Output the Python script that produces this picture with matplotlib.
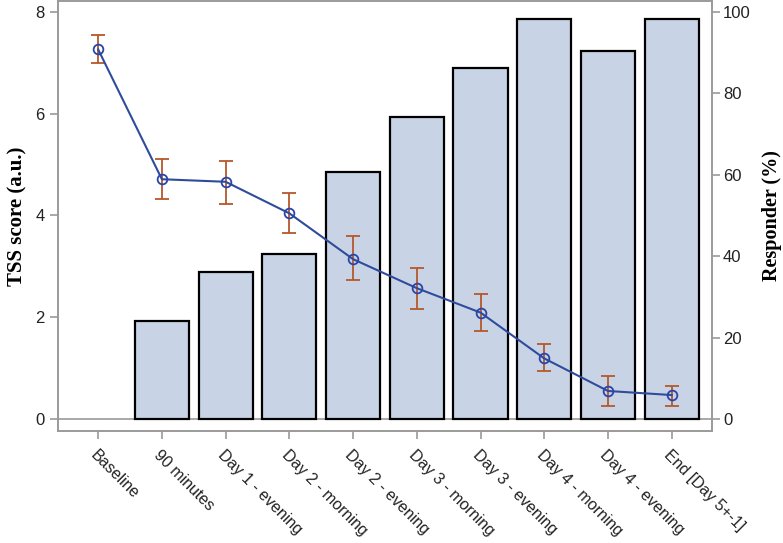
import numpy as np
import matplotlib
matplotlib.use('Agg')
import matplotlib.pyplot as plt

# time points on the x axis
timepoints = ['Baseline', '90 minutes', 'Day 1 - evening', 'Day 2 - morning',
              'Day 2 - evening', 'Day 3 - morning', 'Day 3 - evening',
              'Day 4 - morning', 'Day 4 - evening', 'End [Day 5+-1]']

# mean TSS score with lower / upper error limits
tss_mean = [7.26, 4.71, 4.66, 4.04, 3.14, 2.57, 2.09, 1.19, 0.55, 0.47]
tss_low = [6.99, 4.32, 4.22, 3.66, 2.73, 2.17, 1.73, 0.94, 0.26, 0.26]
tss_high = [7.55, 5.11, 5.07, 4.44, 3.60, 2.97, 2.45, 1.47, 0.85, 0.65]

# responder percentage (bars), no bar at baseline
responder = [np.nan, 24.0, 36.1, 40.5, 60.7, 74.2, 86.2, 98.3, 90.4, 98.3]

x = np.arange(len(timepoints))
yerr = [np.array(tss_mean) - np.array(tss_low), np.array(tss_high) - np.array(tss_mean)]

grey = '#9a9a9a'
tick_font = 'Liberation Sans'
label_font = 'Liberation Serif'

fig = plt.figure(figsize=(7.83, 5.43), dpi=100)
ax = fig.add_axes([0.0741, 0.2063, 0.835, 0.7917])
ax2 = ax.twinx()

ax2.bar(x, responder, width=0.85, color='#c8d4e6', edgecolor='black', linewidth=1.6, zorder=2)
ax2.axhline(0, color=grey, linewidth=1.2, zorder=1)

ax.set_zorder(ax2.get_zorder() + 1)
ax.patch.set_visible(False)
ax.errorbar(x, tss_mean, yerr=yerr, fmt='none', ecolor='#b4582c', elinewidth=1.3,
            capsize=5, capthick=1.3, zorder=3)
ax.plot(x, tss_mean, color='#2f4c9c', linewidth=1.5, marker='o', markersize=7,
        markerfacecolor='none', markeredgecolor='#2a44a8', markeredgewidth=1.3, zorder=4)

ylim = (-0.236, 8.21)
ax.set_ylim(ylim)
ax2.set_ylim(ylim[0] * 12.5, ylim[1] * 12.5)
ax.set_xlim(-0.63, 9.63)

ax.set_yticks([0, 2, 4, 6, 8])
ax2.set_yticks([0, 20, 40, 60, 80, 100])
ax.set_xticks(x)
ax.set_xticklabels(timepoints, rotation=-45, ha='left', va='top', rotation_mode='anchor',
                   family=tick_font, fontsize=11.5)
for lbl in ax.get_yticklabels() + ax2.get_yticklabels():
    lbl.set_family(tick_font)
    lbl.set_fontsize(12)

for a in (ax, ax2):
    for s in a.spines.values():
        s.set_color(grey)
        s.set_linewidth(1.2)
    a.tick_params(colors=grey, width=1.2, length=6, labelcolor='#222222')
ax.tick_params(axis='x', pad=6)
ax2.tick_params(axis='y', pad=2)

ax.set_ylabel('TSS score (a.u.)', family=label_font, fontweight='bold', fontsize=15, labelpad=6)
ax2.set_ylabel('Responder (%)', family=label_font, fontweight='bold', fontsize=14.5, rotation=90)
ax2.yaxis.set_label_coords(1.077, 0.5)

fig.savefig('out.png', dpi=100)
